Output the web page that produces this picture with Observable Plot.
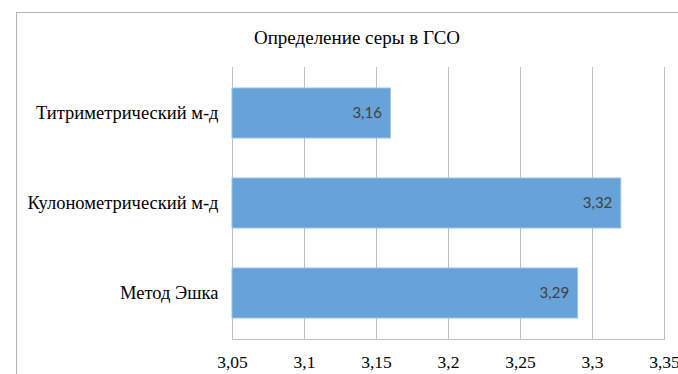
<!DOCTYPE html>
<html>
<head>
<meta charset="utf-8">
<script src="https://cdn.jsdelivr.net/npm/d3@7"></script>
<script src="https://cdn.jsdelivr.net/npm/@observablehq/plot@0.6"></script>
<style>
  html, body { margin: 0; padding: 0; background: #fff; }
  #wrap { position: relative; width: 678px; height: 374px; overflow: hidden; }
  #border { position: absolute; left: 16px; top: 12px; width: 700px; height: 400px;
            border-left: 1px solid #b4b4b4; border-top: 1px solid #b4b4b4; box-sizing: border-box; }
  #title { position: absolute; left: 157px; width: 400px; top: 27px; text-align: center;
           font-family: "Liberation Serif", serif; font-size: 19px; color: #000; }
  #chart { position: absolute; left: 0; top: 0; }
</style>
</head>
<body>
<div id="wrap">
  <div id="border"></div>
  <div id="title">Определение серы в ГСО</div>
  <div id="chart"></div>
</div>
<script>
const categories = ["Титриметрический м-д", "Кулонометрический м-д", "Метод Эшка"];
const values = [3.16, 3.32, 3.29];
const valueLabels = ["3,16", "3,32", "3,29"];
const tickValues = [3.05, 3.1, 3.15, 3.2, 3.25, 3.3, 3.35];
const tickLabels = ["3,05", "3,1", "3,15", "3,2", "3,25", "3,3", "3,35"];
const baseline = 3.05;

const data = categories.map((c, i) => ({ cat: c, value: values[i], label: valueLabels[i] }));

const chart = Plot.plot({
  width: 678,
  height: 374,
  marginTop: 67,
  marginBottom: 35,
  marginLeft: 232,
  marginRight: 14,
  style: { background: "transparent", overflow: "visible" },
  x: { domain: [3.05, 3.35] },
  y: { domain: categories, paddingInner: 0.44, paddingOuter: 0.22 },
  marks: [
    Plot.ruleX(tickValues, { stroke: "#bfbfbf", strokeWidth: 1, strokeOpacity: 1 }),
    Plot.barX(data, { y: "cat", x1: baseline, x2: "value", fill: "#67a3d9", stroke: "#9cc2e8", strokeWidth: 1 }),
    Plot.text(data, { y: "cat", x: "value", text: "label", textAnchor: "end", dx: -9,
      fill: "#404040", fontSize: 15, fontFamily: "Lato, 'Open Sans', sans-serif" }),
    Plot.frame({ anchor: "bottom", stroke: "#bfbfbf" }),
    Plot.axisX({ ticks: tickValues, tickFormat: (d) => tickLabels[tickValues.indexOf(d)],
      tickSize: 0, tickPadding: 16, label: null, fontSize: 17.5,
      fontFamily: "Liberation Serif", fill: "#000" }),
    Plot.axisY({ tickSize: 0, tickPadding: 14, label: null, fontSize: 18.5,
      fontFamily: "Liberation Serif", fill: "#000" })
  ]
});
document.getElementById("chart").appendChild(chart);
</script>
</body>
</html>
